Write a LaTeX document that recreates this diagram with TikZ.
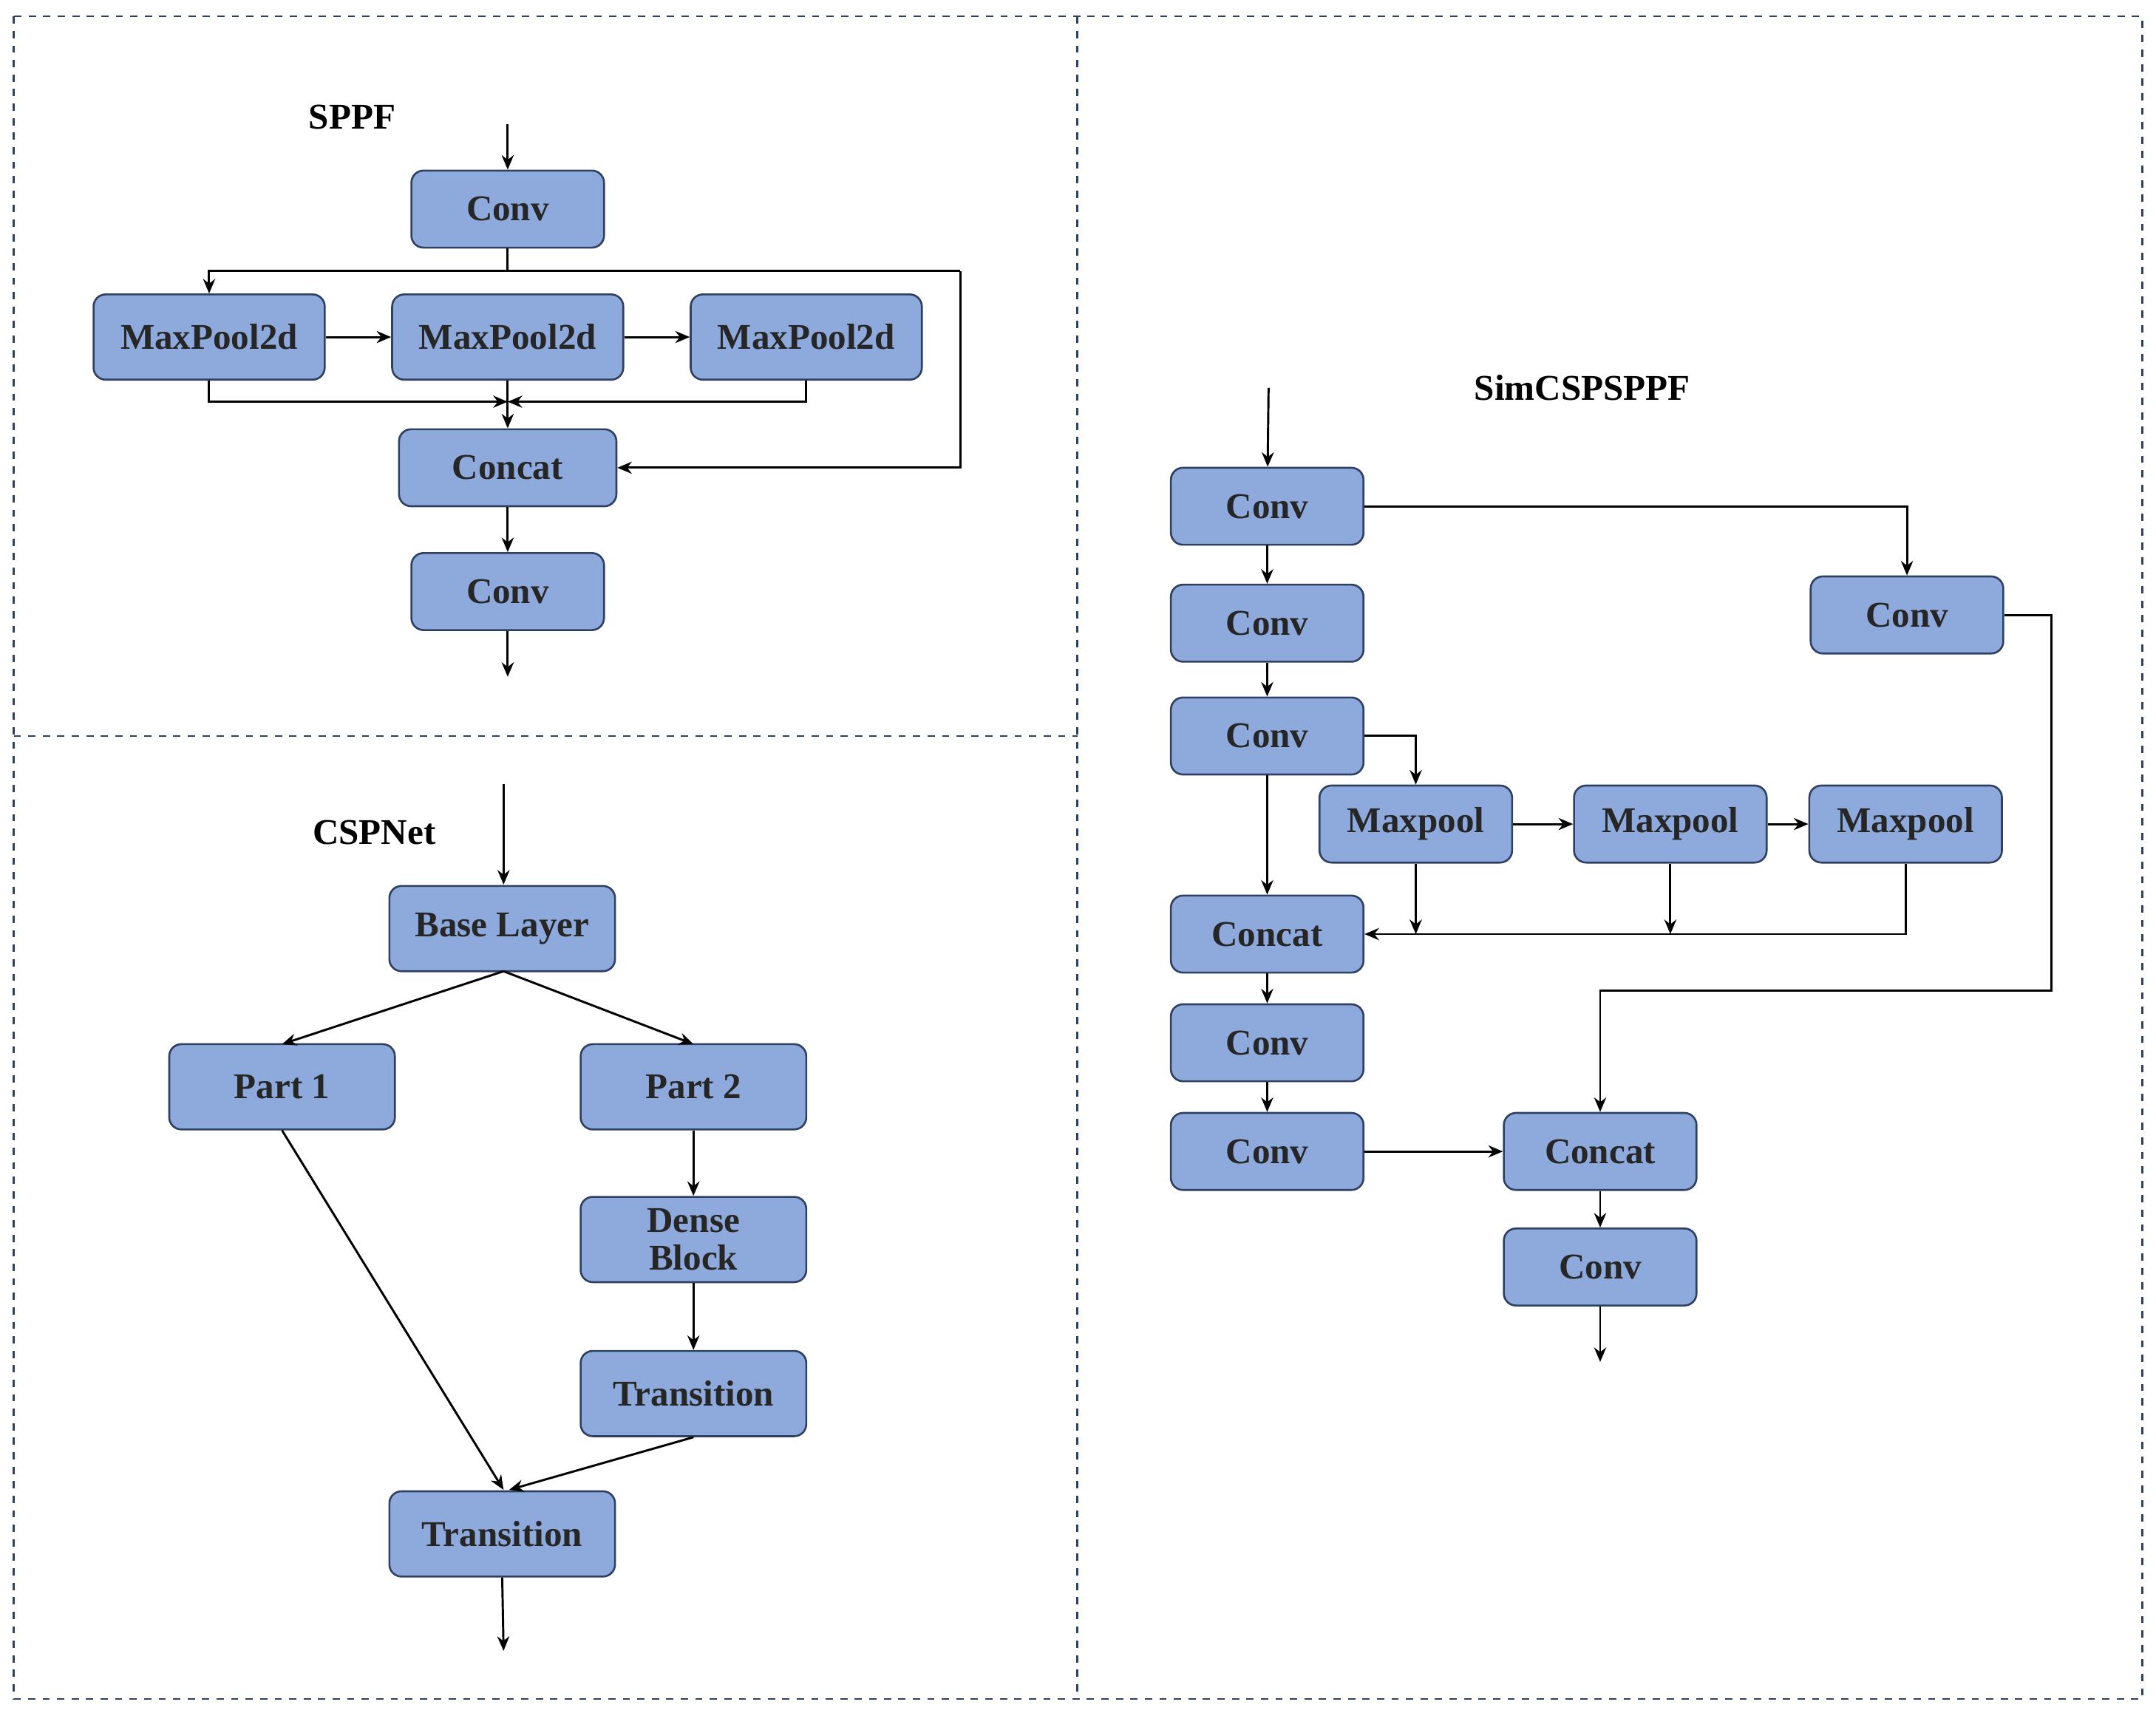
\documentclass[tikz,border=0pt]{standalone}
\usepackage{fontspec}
\setmainfont{Liberation Serif}
\usetikzlibrary{arrows.meta}
\definecolor{bfill}{HTML}{8EAADC}
\definecolor{bdraw}{HTML}{2F4060}
\begin{document}
\begin{tikzpicture}[x=0.02cm,y=-0.02cm,
  box/.style={draw=bdraw,fill=bfill,rounded corners=5pt,line width=0.8pt,minimum width=#1*0.02cm,inner sep=1pt,font=\fontsize{15}{15}\selectfont\bfseries,text=black!85,align=center},
  box/.default=140,
  h56/.style={minimum height=1.12cm},h62/.style={minimum height=1.24cm},
  ar/.style={-{Stealth[length=6pt,width=5pt]},line width=0.9pt},
  ln/.style={line width=0.9pt},
  ttl/.style={font=\fontsize{15}{15}\selectfont\bfseries}]
\useasboundingbox (0,0) rectangle (1567,1245);
\draw[dashed,line width=0.7pt,bdraw] (10,12) rectangle (1557,1235);
\draw[dashed,line width=0.7pt,bdraw] (783,12) -- (783,1235);
\draw[dashed,line width=0.7pt,bdraw] (10,535) -- (783,535);
% SPPF
\node[ttl] (t1) at (256,85) {SPPF};
\coordinate (i1) at (369,90);
\node[box,h56] (c1) at (369,152) {Conv};
\node[box=168,h62] (m1) at (152,245) {MaxPool2d};
\node[box=168,h62] (m2) at (369,245) {MaxPool2d};
\node[box=168,h62] (m3) at (586,245) {MaxPool2d};
\node[box=158,h56] (cc) at (369,340) {Concat};
\node[box,h56] (c2) at (369,430) {Conv};
\coordinate (o1) at (369,492);
\coordinate (j1) at (369,292);
\draw[ar] (i1)--(c1);
\draw[ln] (c1.south)--(369,197);
\draw[ar] (698,197)-|(m1.north);
\draw[ar] (698,197)|-(cc.east);
\draw[ar] (m1)--(m2);\draw[ar] (m2)--(m3);
\draw[ar] (m1.south)|-(j1);
\draw[ar] (m3.south)|-(j1);
\draw[ar] (m2.south)--(cc.north);
\draw[ar] (cc)--(c2);
\draw[ar] (c2)--(o1);
% CSPNet
\node[ttl] (t2) at (272,605) {CSPNet};
\coordinate (i2) at (366,570);
\node[box=164,h62] (bl) at (365,675) {Base Layer};
\node[box=164,h62] (p1) at (205,790) {Part 1};
\node[box=164,h62] (p2) at (504,790) {Part 2};
\node[box=164,h62,font=\fontsize{15}{15.5}\selectfont\bfseries] (db) at (504,901) {Dense\\Block};
\node[box=164,h62] (tr1) at (504,1013) {Transition};
\node[box=164,h62] (tr2) at (365,1115) {Transition};
\coordinate (o2) at (366,1200);
\draw[ar] (i2)--(366,643);
\draw[ar] (366,706)--(205,759);
\draw[ar] (366,706)--(504,759);
\draw[ar] (p2)--(db);\draw[ar] (db)--(tr1);
\draw[ar] (p1.south)--(366,1083);
\draw[ar] (tr1.south)--(370,1083);
\draw[ar] (tr2.south)--(o2);
% SimCSPSPPF
\node[ttl] (t3) at (1150,282) {SimCSPSPPF};
\coordinate (i3) at (922,282);
\node[box,h56] (a) at (921,368) {Conv};
\node[box,h56] (b) at (921,453) {Conv};
\node[box,h56] (c) at (921,535) {Conv};
\node[box,h56] (k1) at (921,679) {Concat};
\node[box,h56] (d) at (921,758) {Conv};
\node[box,h56] (e) at (921,837) {Conv};
\node[box,h56] (r) at (1386,447) {Conv};
\node[box,h56] (q1) at (1029,599) {Maxpool};
\node[box,h56] (q2) at (1214,599) {Maxpool};
\node[box,h56] (q3) at (1385,599) {Maxpool};
\node[box,h56] (k2) at (1163,837) {Concat};
\node[box,h56] (f) at (1163,921) {Conv};
\coordinate (o3) at (1163,990);
\draw[ar] (i3)--(a);
\draw[ar] (a.east)-|(r.north);
\draw[ar] (a)--(b);\draw[ar] (b)--(c);
\draw[ar] (c.east)-|(q1.north);
\draw[ar] (c)--(k1);
\draw[ar] (q1)--(q2);\draw[ar] (q2)--(q3);
\draw[ar] (q1.south)--(1029,679);
\draw[ar] (q2.south)--(1214,679);
\draw[ar] (q3.south)|-(k1.east);
\draw[ar] (r.east)--(1491,447)--(1491,720)-|(k2.north);
\draw[ar] (k1)--(d);\draw[ar] (d)--(e);
\draw[ar] (e)--(k2);
\draw[ar] (k2)--(f);
\draw[ar] (f)--(o3);
\end{tikzpicture}
\end{document}
